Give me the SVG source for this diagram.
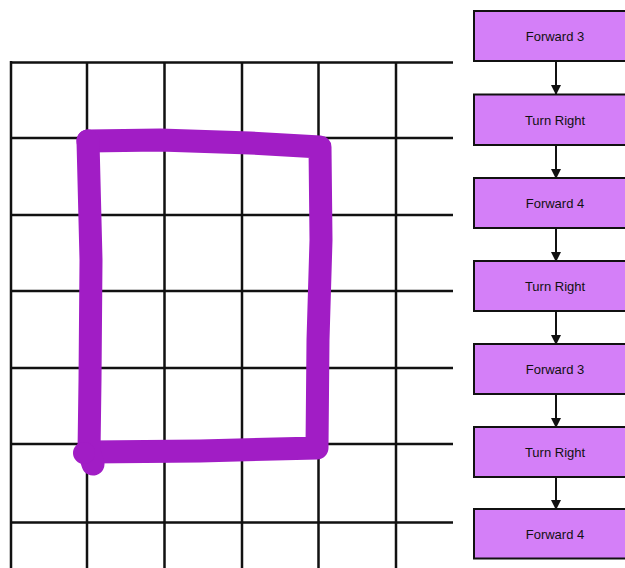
<svg xmlns="http://www.w3.org/2000/svg" width="625" height="568" viewBox="0 0 625 568">
<style>
.grid{stroke:#111;stroke-width:2.5;fill:none}
.box{fill:#D47FF8;stroke:#111;stroke-width:2}
.lbl{font-family:"Liberation Sans",Arial,sans-serif;font-size:13px;fill:#111;text-anchor:middle}
.arr{stroke:#111;stroke-width:2;fill:none;marker-end:url(#ah)}
.pen{stroke:#A11DC5;stroke-width:23;fill:none;stroke-linecap:round;stroke-linejoin:round}
</style>
<defs>
<marker id="ah" markerWidth="10" markerHeight="10" refX="9" refY="5" orient="auto" markerUnits="userSpaceOnUse">
<path d="M0,0 L10,5 L0,10 Z" fill="#111"/>
</marker>
</defs>
<rect width="625" height="568" fill="#fff"/>
<g id="grid">
<path class="grid" d="M11,62.5 H453 M11,138 H453 M11,215 H453 M11,291 H453 M11,368 H453 M11,444 H453 M11,522.5 H453"/>
<path class="grid" d="M11,61 V568 M87,62 V568 M164.5,62 V568 M242,62 V568 M318.5,62 V568 M396,62 V568"/>
</g>
<g id="drawing">
<path class="pen" d="M88,141 L160,140 L250,143 L320,147 L321,240 L318,340 L317,448 L200,451 L90,452"/>
<path class="pen" d="M88,141 L91,260 L90,380 L89,452 L93,464"/>
<circle cx="84" cy="453" r="11" fill="#A11DC5"/>
</g>
<g id="connectors">
<line class="arr" x1="556" y1="61" x2="556" y2="94"/>
<line class="arr" x1="556" y1="145" x2="556" y2="178"/>
<line class="arr" x1="556" y1="228" x2="556" y2="261"/>
<line class="arr" x1="556" y1="311" x2="556" y2="344"/>
<line class="arr" x1="556" y1="394" x2="556" y2="427"/>
<line class="arr" x1="556" y1="477" x2="556" y2="509"/>
</g>
<g id="n1"><rect class="box" x="474" y="11" width="160" height="50"/><text class="lbl" x="555" y="41">Forward 3</text></g>
<g id="n2"><rect class="box" x="474" y="94.5" width="160" height="50.5"/><text class="lbl" x="555" y="124.5">Turn Right</text></g>
<g id="n3"><rect class="box" x="474" y="178" width="160" height="50"/><text class="lbl" x="555" y="208">Forward 4</text></g>
<g id="n4"><rect class="box" x="474" y="261" width="160" height="50"/><text class="lbl" x="555" y="291">Turn Right</text></g>
<g id="n5"><rect class="box" x="474" y="344" width="160" height="50"/><text class="lbl" x="555" y="374">Forward 3</text></g>
<g id="n6"><rect class="box" x="474" y="427" width="160" height="50"/><text class="lbl" x="555" y="457">Turn Right</text></g>
<g id="n7"><rect class="box" x="474" y="509" width="160" height="49.5"/><text class="lbl" x="555" y="538.5">Forward 4</text></g>
</svg>
